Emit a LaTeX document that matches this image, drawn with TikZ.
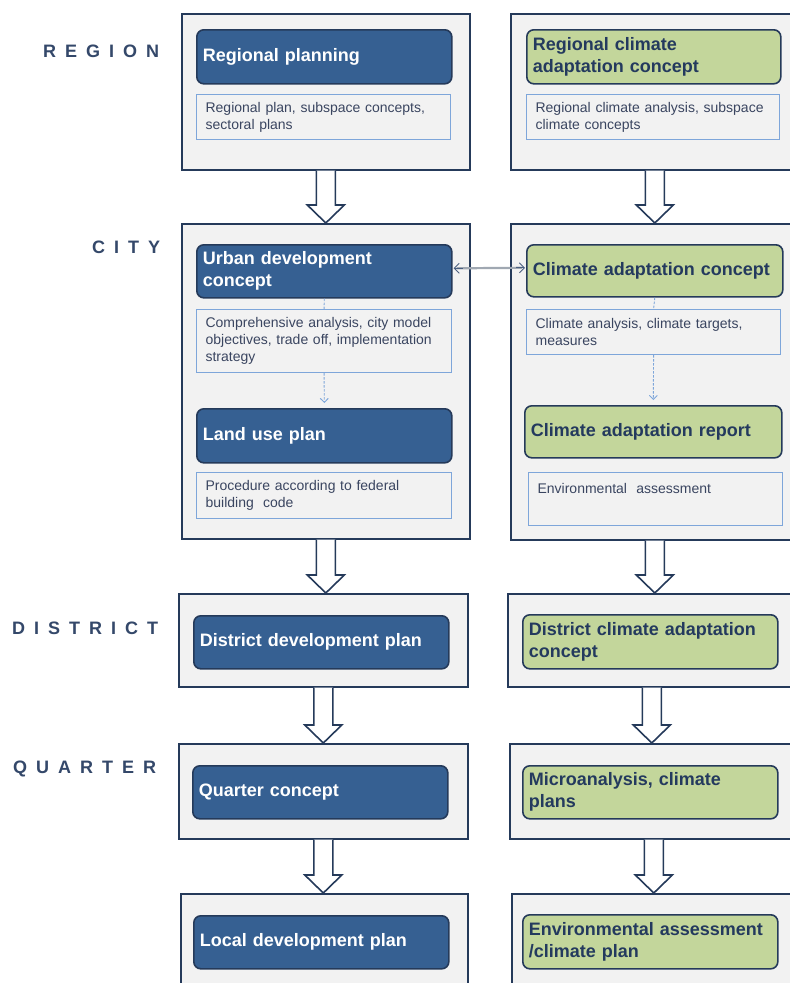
\documentclass[tikz,border=0pt]{standalone}
\usepackage{fontspec}
\setmainfont{Liberation Sans}
\usetikzlibrary{arrows.meta,calc}
\definecolor{navy}{HTML}{253A5A}
\definecolor{bluefill}{HTML}{366092}
\definecolor{greenfill}{HTML}{C3D69B}
\definecolor{greentext}{HTML}{243A5E}
\definecolor{subborder}{HTML}{7EA6DA}
\definecolor{boxgray}{HTML}{F2F2F2}
\definecolor{subtext}{HTML}{3A4560}
\definecolor{lbltext}{HTML}{34486A}
\definecolor{linkgray}{HTML}{A0A8B2}
\definecolor{linktip}{HTML}{4A5F80}
\begin{document}
\begin{tikzpicture}[x=1pt,y=-1pt,
  outerbox/.style={draw=navy,line width=1.6pt,fill=boxgray,inner sep=0pt},
  mainbox/.style={draw=navy,line width=1.6pt,rounded corners=7pt,inner xsep=6pt,inner ysep=0pt,
     align=left,font=\fontsize{18}{22}\selectfont\bfseries},
  bluebox/.style={mainbox,fill=bluefill,text=white},
  greenbox/.style={mainbox,fill=greenfill,text=greentext},
  subbox/.style={draw=subborder,line width=1.2pt,fill=boxgray,inner xsep=9pt,inner ysep=0pt,
     align=left,text=subtext,font=\fontsize{14}{17}\selectfont},
  lvl/.style={anchor=base west,inner sep=0pt,text=lbltext,
     font=\fontsize{18}{22}\selectfont\bfseries\addfontfeature{LetterSpace=50}},
  blockarrow/.style={draw=navy,line width=1.6pt,fill=white,line join=miter},
  dashlink/.style={draw=subborder,line width=0.9pt,dashed,dash pattern=on 2.5pt off 1.5pt},
]
\clip (0,0) rectangle (790,983);
\fill[white] (0,0) rectangle (790,983);
% helper: box from corners
\newcommand{\bx}[7]{% style, name, x1, y1, x2, y2, text
  \pgfmathsetmacro{\bw}{#5-#3}\pgfmathsetmacro{\bh}{#6-#4}
  \node[#1,minimum width=\bw pt,minimum height=\bh pt,anchor=north west] (#2) at (#3,#4) {#7};}
\newcommand{\tbx}[8]{% style, name, x1, y1, x2, y2, padding, text
  \pgfmathsetmacro{\bw}{#5-#3}\pgfmathsetmacro{\bh}{#6-#4}\pgfmathsetmacro{\tw}{#5-#3-2*#7}
  \node[#1,minimum width=\bw pt,minimum height=\bh pt,text width=\tw pt,anchor=north west] (#2) at (#3,#4) {#8};}

% level labels
\node[lvl] (lregion) at (43,57.5) {REGION};
\node[lvl] (lcity) at (92,253.5) {CITY};
\node[lvl] (ldistrict) at (12,634.5) {DISTRICT};
\node[lvl] (lquarter) at (13,773) {QUARTER};

% outer boxes
\bx{outerbox}{regL}{181}{13}{469}{169}{}
\bx{outerbox}{regR}{510}{13}{798}{169}{}
\bx{outerbox}{cityL}{181}{223}{469}{538}{}
\bx{outerbox}{cityR}{510}{223}{798}{539}{}
\bx{outerbox}{distL}{178}{593}{467}{686}{}
\bx{outerbox}{distR}{507}{593}{795}{686}{}
\bx{outerbox}{quarL}{178}{743}{467}{838}{}
\bx{outerbox}{quarR}{509}{743}{797}{838}{}
\bx{outerbox}{locL}{180}{893}{467}{1010}{}
\bx{outerbox}{locR}{511}{893}{799}{1010}{}

% region
\tbx{bluebox}{rp}{196}{29}{451}{83}{6}{Regional planning}
\tbx{subbox}{rps}{196}{94}{450}{139}{9}{Regional plan, subspace concepts,\\sectoral plans}
\tbx{greenbox}{rca}{526}{29}{780}{83}{6}{Regional climate\\adaptation concept}
\tbx{subbox}{rcas}{526}{94}{779}{139}{9}{Regional climate analysis, subspace\\climate concepts}

% city
\tbx{bluebox}{udc}{196}{244}{451}{297}{6}{Urban development\\concept}
\tbx{subbox}{udcs}{196}{309}{451}{372}{9}{Comprehensive analysis, city model\\objectives, trade off, implementation\\strategy}
\tbx{bluebox}{lup}{196}{408}{451}{462}{6}{Land use plan}
\tbx{subbox}{lups}{196}{472}{451}{518}{9}{Procedure according to federal\\building\ \ code}
\tbx{greenbox}{cac}{526}{244}{780}{296}{5}{Climate adaptation concept}
\tbx{subbox}{cacs}{526}{309}{780}{354}{9}{Climate analysis, climate targets,\\measures}
\tbx{greenbox}{car}{524}{405}{781}{457}{6}{Climate adaptation report}
\tbx{subbox}{cars}{528}{472}{782}{525}{9}{Environmental\ \ assessment\\\strut}

% district, quarter, local
\tbx{bluebox}{ddp}{193}{615}{448}{668}{6}{District development plan}
\tbx{greenbox}{dca}{522}{614}{777}{668}{6}{District climate adaptation\\concept}
\tbx{bluebox}{qc}{192}{765}{447}{818}{6}{Quarter concept}
\tbx{greenbox}{mcp}{522}{765}{777}{818}{6}{Microanalysis, climate\\plans}
\tbx{bluebox}{ldp}{193}{915}{448}{968}{6}{Local development plan}
\tbx{greenbox}{eac}{522}{914}{777}{968}{6}{Environmental assessment\\/climate plan}

% dashed links inside city boxes
\draw[dashlink] (udc.south) -- (udcs.north);
\draw[dashlink,-{Straight Barb[length=4pt,width=8pt]}] (udcs.south) -- ($(lup.north)+(0,-5)$);
\draw[dashlink] (cac.south) -- (cacs.north);
\draw[dashlink,-{Straight Barb[length=4pt,width=8pt]}] (cacs.south) -- ($(car.north)+(0,-5)$);

% block arrows
\newcommand{\barrow}[2]{%
  \path[blockarrow] let \p1=(#1.south), \p2=(#2.north) in
    (\x1-9.5pt,\y1) -- (\x1-9.5pt,\y2+18pt) -- (\x1-18.5pt,\y2+18pt) -- (\x1,\y2)
    -- (\x1+18.5pt,\y2+18pt) -- (\x1+9.5pt,\y2+18pt) -- (\x1+9.5pt,\y1);}
\barrow{regL}{cityL}
\barrow{regR}{cityR}
\barrow{cityL}{distL}
\barrow{cityR}{distR}
\barrow{distL}{quarL}
\barrow{distR}{quarR}
\barrow{quarL}{locL}
\barrow{quarR}{locR}

% link between urban development concept and climate adaptation concept
\draw[linkgray,line width=2.2pt] ($(udc.east)+(4,-3)$) -- ($(cac.west)+(-4,-3)$);
\draw[linktip,line width=0.9pt,-{Straight Barb[length=5pt,width=10pt]}] ($(udc.east)+(10,-3)$) -- ($(udc.east)+(1,-3)$);
\draw[linktip,line width=0.9pt,-{Straight Barb[length=5pt,width=10pt]}] ($(cac.west)+(-10,-3)$) -- ($(cac.west)+(-1,-3)$);
\end{tikzpicture}
\end{document}
